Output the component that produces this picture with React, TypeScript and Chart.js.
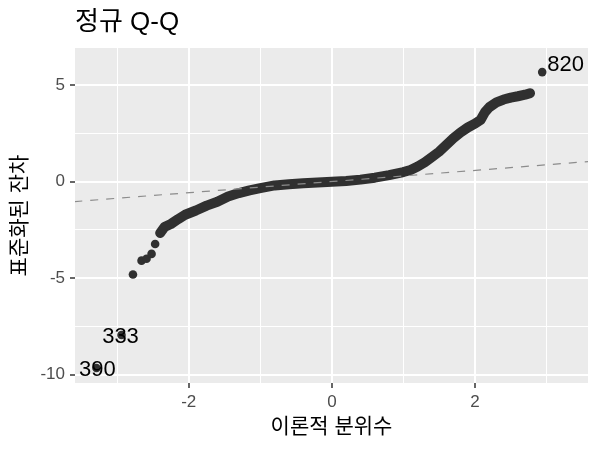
import React, { useEffect, useRef } from 'react';
import { Chart, registerables } from 'chart.js';

Chart.register(...registerables);

// Continuous band of sample points (theoretical quantile, standardized residual)
const bandX = [-2.4, -2.34, -2.25, -2.15, -2.05, -1.9, -1.75, -1.6, -1.45, -1.3, -1.15, -1.0, -0.8, -0.6, -0.4, -0.2, 0.0, 0.2, 0.4, 0.6, 0.8, 1.0, 1.1, 1.2, 1.3, 1.4, 1.5, 1.6, 1.7, 1.8, 1.9, 2.0, 2.08, 2.14, 2.2, 2.3, 2.4, 2.5, 2.6, 2.7, 2.77];
const bandY = [-2.67, -2.36, -2.2, -1.95, -1.72, -1.5, -1.25, -1.05, -0.78, -0.6, -0.46, -0.34, -0.2, -0.14, -0.09, -0.05, -0.01, 0.03, 0.1, 0.2, 0.33, 0.49, 0.6, 0.78, 1.0, 1.27, 1.55, 1.9, 2.25, 2.55, 2.8, 3.0, 3.2, 3.6, 3.85, 4.1, 4.25, 4.35, 4.42, 4.5, 4.58];

// Isolated tail points
const tailX = [-3.29, -2.94, -2.78, -2.66, -2.59, -2.52, -2.47, 2.94];
const tailY = [-9.66, -7.95, -4.82, -4.1, -4.0, -3.75, -3.24, 5.67];

// Labelled observations (index into tail arrays)
const labelIdx = [0, 1, 7];
const labelText = ['390', '333', '820'];

// Reference (qq) line
const refLineX = [-3.6, 3.6];
const refLineY = [-1.04, 1.04];

// Axes
const xTicks = [-3, -2, -1, 0, 1, 2, 3];
const xMajor = [-2, 0, 2];
const yTicks = [-10, -7.5, -5, -2.5, 0, 2.5, 5];
const yMajor = [-10, -5, 0, 5];
const xRange = [-3.59, 3.58];
const yRange = [-10.44, 6.92];

const titleText = '정규 Q-Q';
const xTitle = '이론적 분위수';
const yTitle = '표준화된 잔차';

const FONT = '"Liberation Sans", "Noto Sans CJK KR", Arial, sans-serif';

const labelStyle = [
  { dx: 1, dy: 2, align: 'center' },
  { dx: -1, dy: 2, align: 'center' },
  { dx: 5, dy: -7, align: 'left' },
];

const panelPlugin = {
  id: 'panelBg',
  beforeDraw(chart: any) {
    const { ctx, chartArea } = chart;
    ctx.save();
    ctx.fillStyle = '#ebebeb';
    ctx.fillRect(chartArea.left, chartArea.top, chartArea.right - chartArea.left, chartArea.bottom - chartArea.top);
    ctx.restore();
  },
};

const textPlugin = {
  id: 'texts',
  afterDatasetsDraw(chart: any) {
    const { ctx, scales } = chart;
    ctx.save();
    ctx.fillStyle = '#000';
    ctx.font = `22px ${FONT}`;
    ctx.textBaseline = 'middle';
    labelIdx.forEach((i, k) => {
      const px = scales.x.getPixelForValue(tailX[i]);
      const py = scales.y.getPixelForValue(tailY[i]);
      const st = labelStyle[k];
      ctx.textAlign = st.align;
      ctx.fillText(labelText[k], px + st.dx, py + st.dy);
    });
    ctx.restore();
  },
  afterDraw(chart: any) {
    const { ctx, chartArea } = chart;
    ctx.save();
    ctx.fillStyle = '#000';
    ctx.textBaseline = 'middle';
    ctx.font = `26px ${FONT}`;
    ctx.textAlign = 'left';
    ctx.fillText(titleText, 75, 23);
    ctx.font = `21px ${FONT}`;
    ctx.textAlign = 'center';
    ctx.fillText(xTitle, (chartArea.left + chartArea.right) / 2, 427);
    ctx.translate(20, (chartArea.top + chartArea.bottom) / 2);
    ctx.rotate(-Math.PI / 2);
    ctx.fillText(yTitle, 0, 0);
    ctx.restore();
  },
};

export default function App() {
  const ref = useRef<HTMLCanvasElement>(null);
  useEffect(() => {
    if (!ref.current) return;
    const isMajX = (ctx: any) => ctx.tick && xMajor.includes(ctx.tick.value);
    const isMajY = (ctx: any) => ctx.tick && yMajor.includes(ctx.tick.value);
    const chart = new Chart(ref.current, {
      type: 'scatter',
      data: {
        datasets: [
          {
            type: 'line',
            data: refLineX.map((x, i) => ({ x, y: refLineY[i] })),
            borderColor: '#8c8c8c',
            borderWidth: 1.2,
            borderDash: [8, 8],
            pointRadius: 0,
            fill: false,
          } as any,
          {
            type: 'line',
            data: bandX.map((x, i) => ({ x, y: bandY[i] })),
            borderColor: '#303030',
            backgroundColor: '#303030',
            borderWidth: 10,
            borderCapStyle: 'round',
            borderJoinStyle: 'round',
            pointRadius: 0,
            fill: false,
            tension: 0,
          } as any,
          {
            data: tailX.map((x, i) => ({ x, y: tailY[i] })),
            backgroundColor: '#303030',
            borderColor: '#303030',
            borderWidth: 0,
            pointRadius: 4.3,
          },
        ],
      },
      options: {
        animation: false,
        responsive: false,
        devicePixelRatio: 1,
        layout: { padding: { top: 48, right: 12, left: 0, bottom: 0 } },
        plugins: { legend: { display: false }, tooltip: { enabled: false }, title: { display: false } },
        scales: {
          x: {
            type: 'linear',
            min: xRange[0],
            max: xRange[1],
            afterBuildTicks: (s: any) => { s.ticks = xTicks.map((v) => ({ value: v })); },
            afterFit: (s: any) => { s.height = 67; },
            border: { display: false },
            grid: {
              color: '#ffffff',
              lineWidth: (c: any) => (isMajX(c) ? 2 : 1),
              tickColor: (c: any) => (isMajX(c) ? '#333333' : 'rgba(0,0,0,0)'),
              tickLength: 5,
              tickWidth: 1.5,
            },
            ticks: {
              autoSkip: false,
              maxRotation: 0,
              padding: 4,
              color: '#4d4d4d',
              font: { size: 17, family: FONT },
              callback: (v: any) => (xMajor.includes(Number(v)) ? String(v) : ''),
            },
          },
          y: {
            type: 'linear',
            min: yRange[0],
            max: yRange[1],
            afterBuildTicks: (s: any) => { s.ticks = yTicks.map((v) => ({ value: v })); },
            afterFit: (s: any) => { s.width = 75; },
            border: { display: false },
            grid: {
              color: '#ffffff',
              lineWidth: (c: any) => (isMajY(c) ? 2 : 1),
              tickColor: (c: any) => (isMajY(c) ? '#333333' : 'rgba(0,0,0,0)'),
              tickLength: 5,
              tickWidth: 1.5,
            },
            ticks: {
              autoSkip: false,
              padding: 5,
              color: '#4d4d4d',
              font: { size: 17, family: FONT },
              callback: (v: any) => (yMajor.includes(Number(v)) ? String(v) : ''),
            },
          },
        },
      },
      plugins: [panelPlugin, textPlugin],
    });
    return () => chart.destroy();
  }, []);
  return (
    <div style={{ position: 'absolute', left: 0, top: 0, width: 600, height: 450, background: '#fff' }}>
      <canvas ref={ref} width={600} height={450} />
    </div>
  );
}
